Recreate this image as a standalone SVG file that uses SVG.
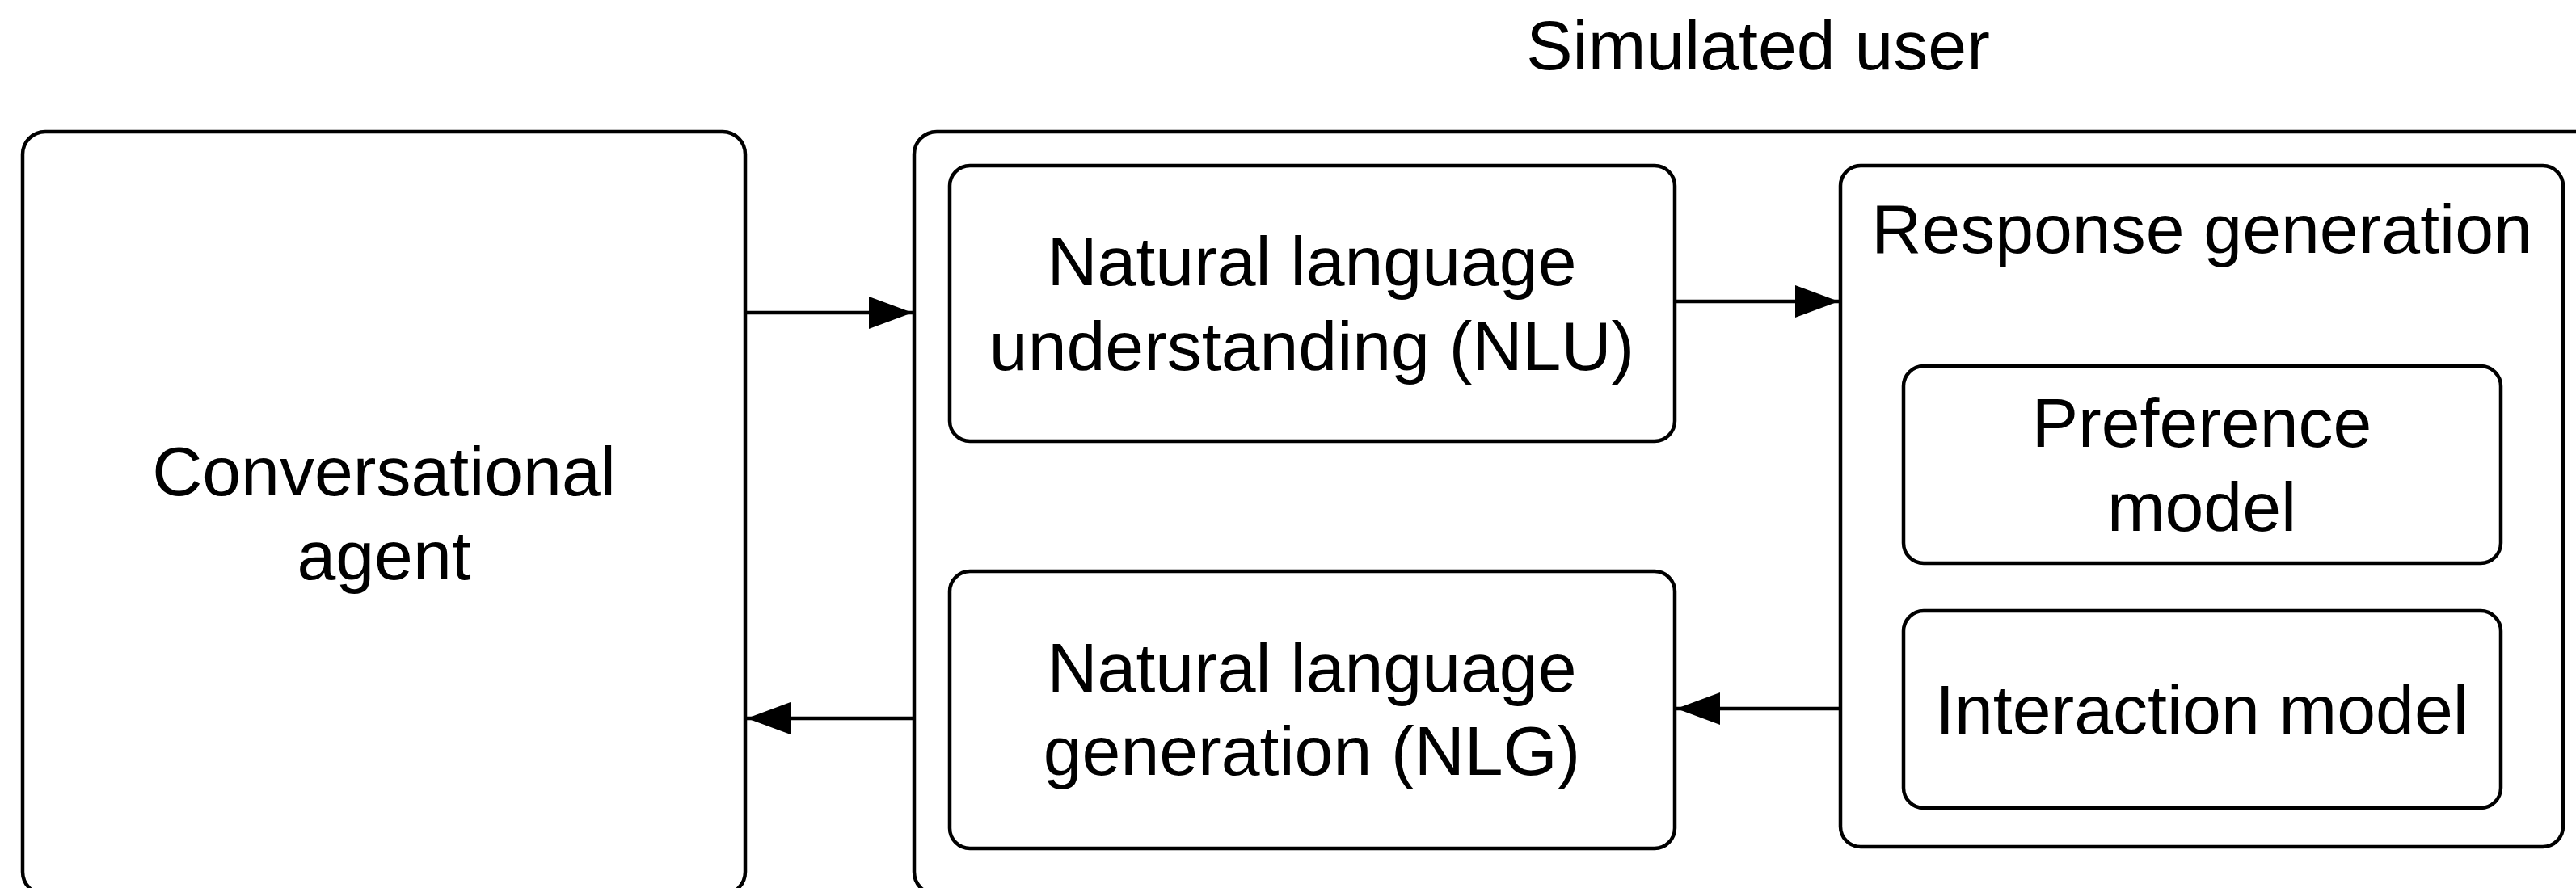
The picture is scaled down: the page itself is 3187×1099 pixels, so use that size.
<svg xmlns="http://www.w3.org/2000/svg" width="3187" height="1099" viewBox="0 0 3187 1099">
<style>
.box{fill:#fff;stroke:#000;stroke-width:4.5}
.t{font-family:"Liberation Sans",Arial,Helvetica,sans-serif;font-size:86px;fill:#000;text-anchor:middle}
.c{stroke:#000;stroke-width:4.5;fill:none}
</style>
<defs>
<marker id="ah" markerUnits="userSpaceOnUse" markerWidth="56" markerHeight="42" refX="54" refY="20" orient="auto">
<path d="M0,0 L54,20 L0,40 Z" fill="#000"/>
</marker>
</defs>
<rect width="3187" height="1099" fill="#fff"/>
<text class="t" x="2175" y="86">Simulated user</text>
<g id="conversational-agent">
<rect class="box" x="28" y="163" width="894" height="944" rx="28"/>
<text class="t" x="475" y="613">Conversational</text>
<text class="t" x="475" y="717">agent</text>
</g>
<g id="simulated-user">
<rect class="box" x="1131" y="163" width="2090" height="944" rx="28"/>
</g>
<g id="nlu">
<rect class="box" x="1175" y="205" width="897" height="341" rx="25"/>
<text class="t" x="1623" y="353">Natural language</text>
<text class="t" x="1623" y="458">understanding (NLU)</text>
</g>
<g id="nlg">
<rect class="box" x="1175" y="707" width="897" height="343" rx="25"/>
<text class="t" x="1623" y="856">Natural language</text>
<text class="t" x="1623" y="959">generation (NLG)</text>
</g>
<g id="response-generation">
<rect class="box" x="2277" y="205" width="894" height="843" rx="25"/>
<text class="t" x="2724" y="313">Response generation</text>
</g>
<g id="preference-model">
<rect class="box" x="2355" y="453" width="739" height="244" rx="25"/>
<text class="t" x="2724" y="553">Preference</text>
<text class="t" x="2724" y="657">model</text>
</g>
<g id="interaction-model">
<rect class="box" x="2355" y="756" width="739" height="244" rx="25"/>
<text class="t" x="2724" y="908">Interaction model</text>
</g>
<g id="connectors">
<line class="c" x1="922" y1="387" x2="1129" y2="387" marker-end="url(#ah)"/>
<line class="c" x1="2072" y1="373" x2="2275" y2="373" marker-end="url(#ah)"/>
<line class="c" x1="2277" y1="877" x2="2074" y2="877" marker-end="url(#ah)"/>
<line class="c" x1="1131" y1="889" x2="924" y2="889" marker-end="url(#ah)"/>
</g>
</svg>
